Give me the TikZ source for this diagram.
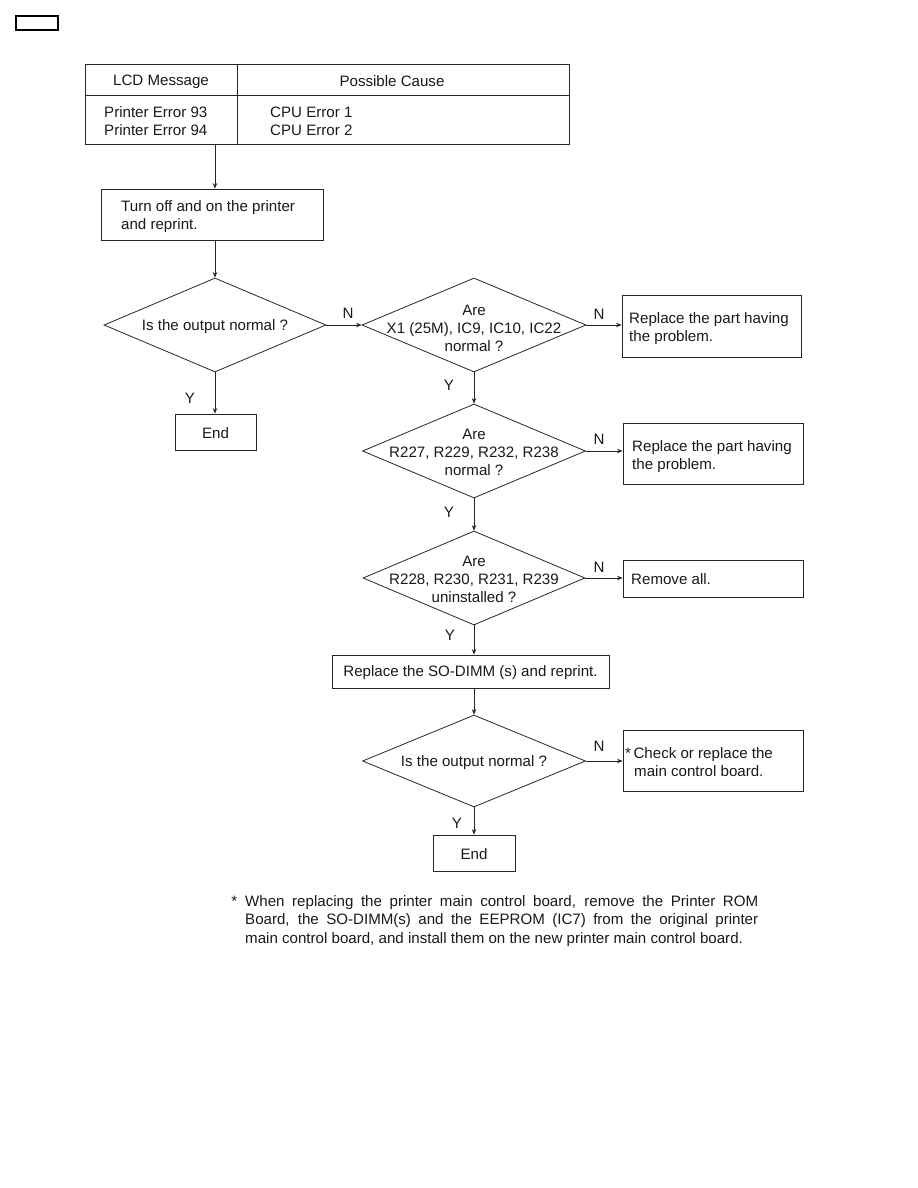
\documentclass[tikz,border=0pt]{standalone}
\usepackage{fontspec}
\setmainfont{Liberation Sans}
\usetikzlibrary{arrows.meta,shapes.geometric}
\begin{document}
\begin{tikzpicture}[x=1bp,y=-1bp,
  every node/.style={font=\fontsize{15.1bp}{18bp}\selectfont, inner sep=0pt, text=black!90},
  txt/.style={yshift=-1.5bp},
  ln/.style={draw=black!85, line width=0.8bp},
  box/.style={ln, rectangle, inner sep=0pt},
  dia/.style={ln, diamond, inner sep=0pt, aspect=2.3},
  arr/.style={draw=black!85, line width=0.8bp, -{Stealth[length=5.5bp,width=4.5bp]}},
  lbl/.style={txt}
]
\useasboundingbox (0,0) rectangle (918,1188);

% small corner box
\node[draw, line width=1.4bp, minimum width=42bp, minimum height=14bp] (corner) at (37,23) {};

% table
\node[box, minimum width=484bp, minimum height=80bp] (tbl) at (327,104) {};
\coordinate (hl) at (85,95);
\coordinate (hr) at (569,95);
\coordinate (vt) at (237,64);
\coordinate (vb) at (237,144);
\draw[ln] (hl) -- (hr);
\draw[ln] (vt) -- (vb);
\node[txt] (h1) at (161,80) {LCD Message};
\node[txt] (h2) at (392,80) {Possible Cause};
\node[txt, anchor=west, align=left] (c1) at (104,120) {Printer Error 93\\Printer Error 94};
\node[txt, anchor=west, align=left] (c2) at (270,120) {CPU Error 1\\CPU Error 2};

% box 1
\node[box, minimum width=222bp, minimum height=51bp] (b1) at (212,214.5) {};
\node[txt, anchor=west, align=left] (t1) at (121,215) {Turn off and on the printer\\and reprint.};

% diamonds
\node[dia, minimum width=222bp, minimum height=94bp] (d1) at (215,325) {};
\node[txt] (td1) at (d1.center) {Is the output normal ?};
\node[dia, minimum width=224bp, minimum height=94bp] (d2) at (474,325) {};
\node[txt, align=center] (td2) at (474,327) {Are\\X1 (25M), IC9, IC10, IC22\\normal ?};
\node[dia, minimum width=223bp, minimum height=94bp] (d3) at (474,451) {};
\node[txt, align=center] (td3) at (474,451) {Are\\R227, R229, R232, R238\\normal ?};
\node[dia, minimum width=222bp, minimum height=94bp] (d4) at (474,578) {};
\node[txt, align=center] (td4) at (474,578) {Are\\R228, R230, R231, R239\\uninstalled ?};
\node[dia, minimum width=223bp, minimum height=92bp] (d5) at (474,761) {};
\node[txt] (td5) at (474,761) {Is the output normal ?};

% right boxes
\node[box, minimum width=179bp, minimum height=62bp] (r1) at (711.5,326) {};
\node[txt, anchor=west, align=left] (tr1) at (629,327) {Replace the part having\\the problem.};
\node[box, minimum width=180bp, minimum height=61bp] (r2) at (713,453.5) {};
\node[txt, anchor=west, align=left] (tr2) at (632,455) {Replace the part having\\the problem.};
\node[box, minimum width=180bp, minimum height=37bp] (r3) at (713,578.5) {};
\node[txt, anchor=west] (tr3) at (631,578) {Remove all.};
\node[box, minimum width=180bp, minimum height=61bp] (r4) at (713,760.5) {};
\node[txt, anchor=west, align=left] (tr4) at (625,761) {*\hspace{2.5bp}Check or replace the\\\hspace{9bp}main control board.};

% end boxes
\node[box, minimum width=81bp, minimum height=36bp] (e1) at (215.5,432) {};
\node[txt] (te1) at (e1.center) {End};
\node[box, minimum width=82bp, minimum height=36bp] (e2) at (474,853) {};
\node[txt] (te2) at (e2.center) {End};

% SO-DIMM box
\node[box, minimum width=277bp, minimum height=33bp] (so) at (470.5,671.5) {};
\node[txt] (tso) at (so.center) {Replace the SO-DIMM (s) and reprint.};

% connectors
\draw[arr] (d1.north |- tbl.south) -- (d1.north |- b1.north);
\draw[arr] (d1.north |- b1.south) -- (d1.north);
\draw[arr] (d1.east) -- (d2.west);
\draw[arr] (d2.east) -- (d2.east -| r1.west);
\draw[arr] (d1.south) -- (d1.south |- e1.north);
\draw[arr] (d2.south) -- (d3.north);
\draw[arr] (d3.east) -- (d3.east -| r2.west);
\draw[arr] (d3.south) -- (d4.north);
\draw[arr] (d4.east) -- (d4.east -| r3.west);
\draw[arr] (d4.south) -- (d4.south |- so.north);
\draw[arr] (d5.north |- so.south) -- (d5.north);
\draw[arr] (d5.east) -- (d5.east -| r4.west);
\draw[arr] (d5.south) -- (d5.south |- e2.north);

% labels
\node[lbl] (n1) at (348,312) {N};
\node[lbl] (n2) at (599,313) {N};
\node[lbl] (y1) at (190,397) {Y};
\node[lbl] (y2) at (449,384) {Y};
\node[lbl] (n3) at (599,438) {N};
\node[lbl] (y3) at (449,511) {Y};
\node[lbl] (n4) at (599,566) {N};
\node[lbl] (y4) at (450,634) {Y};
\node[lbl] (n5) at (599,745) {N};
\node[lbl] (y5) at (457,822) {Y};

% footnote
\node[text width=513bp, align=justify, anchor=north west, font=\fontsize{15.1bp}{18.5bp}\selectfont] (foot) at (245,895)
  {\llap{*\hspace{8bp}}When replacing the printer main control board, remove the Printer ROM\linebreak Board, the SO-DIMM(s) and the EEPROM (IC7) from the original printer\linebreak main control board, and install them on the new printer main control board.};
\end{tikzpicture}
\end{document}
